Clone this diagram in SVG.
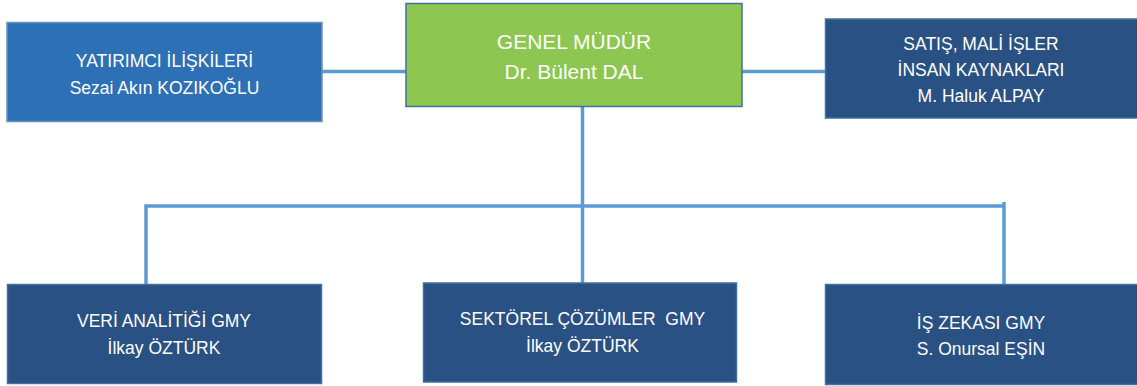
<svg xmlns="http://www.w3.org/2000/svg" width="1137" height="386" viewBox="0 0 1137 386">
<style>
.box{stroke:#41719C;stroke-width:1.5}
.dark{fill:#2A5183}
.mid{fill:#2E70B5;stroke:#6B8FC2}
.green{fill:#8DC650}
.t{font-family:"Liberation Sans",Arial,sans-serif;font-size:17.5px;fill:#FFFFFF;text-anchor:middle;white-space:pre}
.tb{font-size:21px}
.conn{fill:none;stroke:#5B9BD5;stroke-width:3.5}
</style>
<rect width="1137" height="386" fill="#FFFFFF"/>
<g id="connectors">
<line class="conn" x1="322" y1="71.5" x2="406" y2="71.5"/>
<line class="conn" x1="742" y1="71.5" x2="826" y2="71.5"/>
<line class="conn" x1="582.5" y1="107" x2="582.5" y2="283"/>
<path class="conn" d="M146,285 V206 H1004"/>
<line class="conn" x1="1004" y1="202" x2="1004" y2="285"/>
</g>
<g id="yatirimci">
<rect class="box mid" x="7" y="22.5" width="315" height="99"/>
<text class="t" x="164.5" y="67">YATIRIMCI İLİŞKİLERİ</text>
<text class="t" x="164.5" y="93.5">Sezai Akın KOZIKOĞLU</text>
</g>
<g id="genel-mudur">
<rect class="box green" x="406" y="3.5" width="336" height="103"/>
<text class="t tb" x="574" y="48.5">GENEL MÜDÜR</text>
<text class="t tb" x="574" y="79">Dr. Bülent DAL</text>
</g>
<g id="satis">
<rect class="box dark" x="825.5" y="19" width="313" height="99"/>
<text class="t" x="981" y="50">SATIŞ, MALİ İŞLER</text>
<text class="t" x="981" y="75.5">İNSAN KAYNAKLARI</text>
<text class="t" x="981" y="101.5">M. Haluk ALPAY</text>
</g>
<g id="veri-analitigi">
<rect class="box dark" x="7.5" y="284.5" width="314" height="99"/>
<text class="t" x="164" y="327">VERİ ANALİTİĞİ GMY</text>
<text class="t" x="164" y="353.5">İlkay ÖZTÜRK</text>
</g>
<g id="sektorel">
<rect class="box dark" x="423.5" y="283" width="313" height="99"/>
<text class="t" x="582.5" y="325">SEKTÖREL ÇÖZÜMLER  GMY</text>
<text class="t" x="582.5" y="352">İlkay ÖZTÜRK</text>
</g>
<g id="is-zekasi">
<rect class="box dark" x="825.5" y="284.5" width="313" height="100"/>
<text class="t" x="981" y="328.5">İŞ ZEKASI GMY</text>
<text class="t" x="981" y="355">S. Onursal EŞİN</text>
</g>
</svg>
